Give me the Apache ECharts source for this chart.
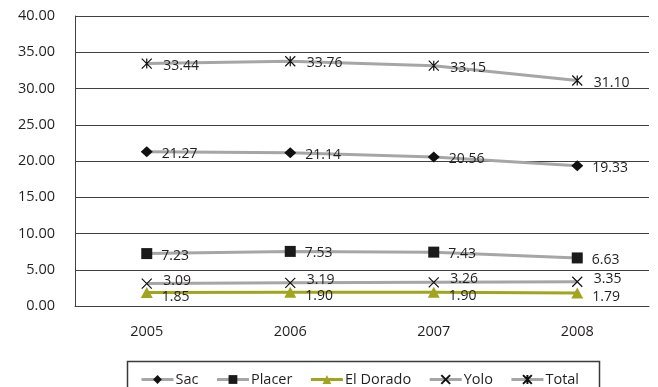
<!DOCTYPE html>
<html>
<head>
<meta charset="utf-8">
<script src="https://cdn.jsdelivr.net/npm/echarts@6/dist/echarts.min.js"></script>
<style>
  html, body { margin: 0; padding: 0; background: #fff; }
  #chart { width: 658px; height: 387px; }
</style>
</head>
<body>
<div id="chart"></div>
<script>
// Years on the category axis
const years = ['2005', '2006', '2007', '2008'];

// Values per county
const sac = [21.27, 21.14, 20.56, 19.33];
const placer = [7.23, 7.53, 7.43, 6.63];
const elDorado = [1.85, 1.90, 1.90, 1.79];
const yolo = [3.09, 3.19, 3.26, 3.35];
const total = [33.44, 33.76, 33.15, 31.10];

const FONT = '"Open Sans", "Noto Sans", sans-serif';
const GREY = '#a6a6a6';
const OLIVE = '#a0a51e';
const INK = '#231f20';
const GRID = '#404040';

const crossPath = 'path://M0,0L10,10M10,0L0,10';
const starPath = 'path://M0,0L10,10M10,0L0,10M5,0L5,10';

function makeSeries(name, data, opts) {
  return {
    name: name,
    type: 'line',
    data: data,
    symbol: opts.symbol,
    symbolSize: opts.size,
    showAllSymbol: true,
    lineStyle: { color: opts.line || GREY, width: 3 },
    itemStyle: opts.item,
    label: {
      show: true,
      position: 'right',
      distance: 9,
      offset: opts.offset || [0, 2],
      color: INK,
      fontFamily: FONT,
      fontSize: 14,
      formatter: p => p.value.toFixed(2)
    },
    emphasis: { disabled: true },
    animation: false,
    z: opts.z || 2
  };
}

const chart = echarts.init(document.getElementById('chart'));
chart.setOption({
  backgroundColor: '#fff',
  animation: false,
  grid: { left: 75, right: 9, top: 16, bottom: 81 },
  xAxis: {
    type: 'category',
    data: years,
    boundaryGap: true,
    axisLine: { show: true, lineStyle: { color: GRID, width: 1 } },
    axisTick: { show: false },
    axisLabel: { color: INK, fontFamily: FONT, fontSize: 14.5, margin: 18 },
    splitLine: { show: false }
  },
  yAxis: {
    type: 'value',
    min: 0,
    max: 40,
    interval: 5,
    axisLine: { show: true, lineStyle: { color: GRID, width: 1 } },
    axisTick: { show: false },
    axisLabel: {
      color: INK, fontFamily: FONT, fontSize: 14.5, margin: 20,
      formatter: v => v.toFixed(2)
    },
    splitLine: { show: true, lineStyle: { color: GRID, width: 1 } }
  },
  legend: {
    left: 135,
    top: 367,
    itemWidth: 32,
    itemHeight: 11,
    itemGap: 17,
    lineStyle: { width: 3 },
    textStyle: { color: INK, fontFamily: FONT, fontSize: 14.5, padding: [0, 0, 0, -3] },
    data: ['Sac', 'Placer', 'El Dorado', 'Yolo', 'Total']
  },
  graphic: [{
    type: 'rect',
    left: 125,
    top: 359,
    shape: { width: 472, height: 40 },
    style: { fill: 'none', stroke: '#3a3a3a', lineWidth: 1.5 },
    silent: true
  }],
  series: [
    makeSeries('Sac', sac, {
      symbol: 'diamond', size: [12, 11],
      item: { color: '#111' }
    }),
    makeSeries('Placer', placer, {
      symbol: 'rect', size: 11,
      item: { color: '#1a1a1a' }
    }),
    makeSeries('El Dorado', elDorado, {
      symbol: 'triangle', size: [12, 11], line: OLIVE,
      item: { color: OLIVE }, offset: [0, 4], z: 2
    }),
    makeSeries('Yolo', yolo, {
      symbol: crossPath, size: 10,
      item: { color: 'none', borderColor: '#111', borderWidth: 1.2 },
      offset: [0, -3], z: 3
    }),
    makeSeries('Total', total, {
      symbol: starPath, size: 10,
      item: { color: 'none', borderColor: '#111', borderWidth: 1.2 }
    })
  ]
});
</script>
</body>
</html>
